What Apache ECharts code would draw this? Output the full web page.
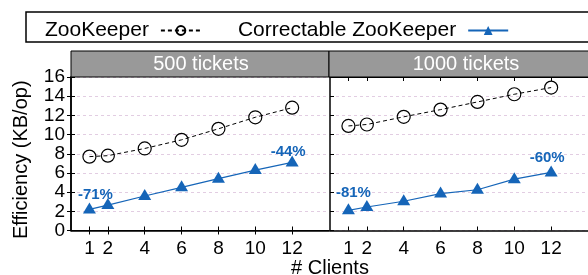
<!DOCTYPE html>
<html>
<head>
<meta charset="utf-8">
<script src="https://cdn.jsdelivr.net/npm/echarts@6/dist/echarts.min.js"></script>
<style>
  html, body { margin: 0; padding: 0; background: #fff; }
  #main { width: 588px; height: 275px; }
</style>
</head>
<body>
<div id="main"></div>
<script>
// data
const clients = [1, 2, 4, 6, 8, 10, 12];
const zk500 = [7.7, 7.8, 8.55, 9.45, 10.6, 11.8, 12.8];
const czk500 = [2.2, 2.65, 3.6, 4.5, 5.4, 6.3, 7.1];
const zk1000 = [10.9, 11.05, 11.85, 12.6, 13.4, 14.2, 14.9];
const czk1000 = [2.1, 2.45, 3.05, 3.85, 4.25, 5.35, 6.05];
const drops500 = ['-71%', '-44%'];
const drops1000 = ['-81%', '-60%'];
const panelTitles = ['500 tickets', '1000 tickets'];

const FONT = 'Liberation Sans';
const BLUE = '#1565b8';

var myChart = echarts.init(document.getElementById('main'), null, { renderer: 'canvas' });

function pts(arr) {
  return clients.map(function (c, i) { return [c, arr[i]]; });
}
// blue series with the percentage drop on first and last point
function ptsLabeled(arr, drops, offs) {
  return clients.map(function (c, i) {
    let item = { value: [c, arr[i]] };
    if (i == 0 || i == clients.length - 1) {
      let k = i == 0 ? 0 : 1;
      item.label = {
        show: true, position: 'top', formatter: drops[k], offset: offs[k],
        color: BLUE, fontFamily: FONT, fontSize: 15, fontWeight: 'bold'
      };
    }
    return item;
  });
}

function xAx(grid, top) {
  return {
    type: 'value', gridIndex: grid, min: 0, max: 14, position: top ? 'top' : 'bottom',
    axisLine: { show: true, lineStyle: { color: '#000', width: top ? 1 : 1.5 } },
    axisTick: { show: true, inside: true, length: 4, customValues: clients, lineStyle: { color: '#000' } },
    axisLabel: top ? { show: false } : {
      show: true, customValues: clients, color: '#000', fontFamily: FONT, fontSize: 19, margin: 9
    },
    splitLine: { show: false }
  };
}
function yAx(grid, right, labels, split) {
  return {
    type: 'value', gridIndex: grid, min: 0, max: 16, interval: 2, position: right ? 'right' : 'left',
    axisLine: { show: true, lineStyle: { color: '#000', width: 1.5 } },
    axisTick: { show: true, inside: true, length: 4, lineStyle: { color: '#000' } },
    axisLabel: { show: labels, color: '#000', fontFamily: FONT, fontSize: 19, margin: 6 },
    splitLine: { show: split, lineStyle: { color: '#e2cde2', type: [3, 3], width: 1 } },
    name: labels ? 'Efficiency (KB/op)' : '',
    nameLocation: 'middle', nameGap: 40,
    nameTextStyle: { color: '#000', fontFamily: FONT, fontSize: 20, padding: [0, 12, 0, 0] }
  };
}

function zkSeries(name, data, xi, yi) {
  return {
    name: name, type: 'line', data: data, xAxisIndex: xi, yAxisIndex: yi,
    symbol: 'circle', symbolSize: 13,
    itemStyle: { color: 'rgba(255,255,255,0)', borderColor: '#000', borderWidth: 1.2 },
    lineStyle: { color: '#000', width: 1, type: [4, 3] },
    animation: false
  };
}
function czkSeries(name, data, xi, yi) {
  return {
    name: name, type: 'line', data: data, xAxisIndex: xi, yAxisIndex: yi,
    symbol: 'triangle', symbolSize: [13, 11], symbolOffset: [0, -1.5],
    itemStyle: { color: BLUE },
    lineStyle: { color: BLUE, width: 1.2 },
    animation: false
  };
}

var option = {
  animation: false,
  grid: [
    { left: 71, top: 77, width: 258, height: 153.5 },
    { left: 330, top: 77, width: 263, height: 153.5 }
  ],
  legend: {
    left: 40, top: 15, width: 580, orient: 'horizontal', align: 'right',
    itemWidth: 40, itemHeight: 11, itemGap: 36,
    textStyle: { color: '#000', fontFamily: FONT, fontSize: 21, padding: [0, 7, 0, 0] },
    data: ['ZooKeeper', 'Correctable ZooKeeper']
  },
  xAxis: [xAx(0, false), xAx(0, true), xAx(1, false), xAx(1, true)],
  yAxis: [yAx(0, false, true, true), yAx(0, true, false, false), yAx(1, false, false, true)],
  series: [
    zkSeries('ZooKeeper', pts(zk500), 0, 0),
    czkSeries('Correctable ZooKeeper', ptsLabeled(czk500, drops500, [[6, 5], [-4, 9]]), 0, 0),
    zkSeries('ZooKeeper', pts(zk1000), 2, 2),
    czkSeries('Correctable ZooKeeper', ptsLabeled(czk1000, drops1000, [[5, 2], [-4, 5]]), 2, 2)
  ],
  graphic: [
    { type: 'rect', z: 10, shape: { x: 26, y: 12, width: 600, height: 30 },
      style: { fill: 'none', stroke: '#000', lineWidth: 1.5 } },
    { type: 'rect', z: 10, shape: { x: 71, y: 51, width: 258, height: 26 },
      style: { fill: '#999999', stroke: '#000', lineWidth: 1 } },
    { type: 'rect', z: 10, shape: { x: 329, y: 51, width: 280, height: 26 },
      style: { fill: '#999999', stroke: '#000', lineWidth: 1 } },
    { type: 'text', z: 11, x: 201, y: 64,
      style: { text: panelTitles[0], fill: '#fff', font: '20px "Liberation Sans"', align: 'center', verticalAlign: 'middle' } },
    { type: 'text', z: 11, x: 466, y: 64,
      style: { text: panelTitles[1], fill: '#fff', font: '20px "Liberation Sans"', align: 'center', verticalAlign: 'middle' } },
    { type: 'text', z: 11, x: 330, y: 268,
      style: { text: '# Clients', fill: '#000', font: '20px "Liberation Sans"', align: 'center', verticalAlign: 'middle' } }
  ]
};
myChart.setOption(option);
</script>
</body>
</html>
